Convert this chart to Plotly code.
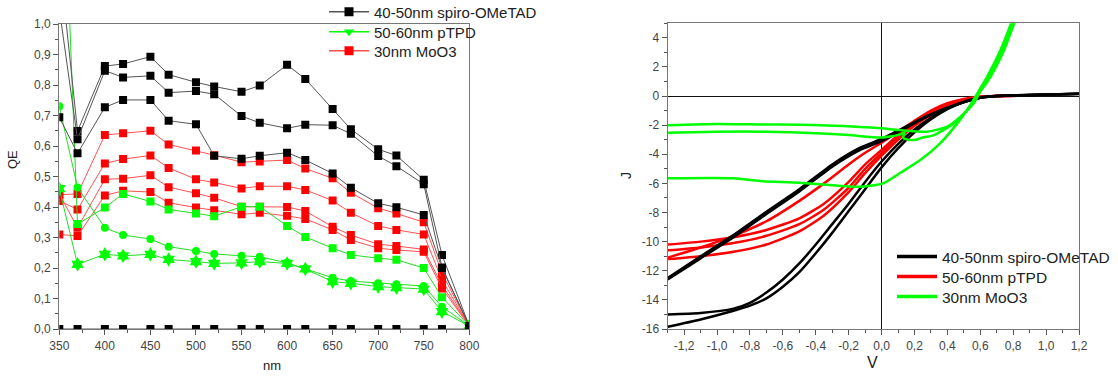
import plotly.graph_objects as go

# ---------------- Left chart: QE vs wavelength ----------------
wavelength = [350, 370, 400, 420, 450, 470, 500, 520, 550, 570, 600, 620, 650, 670, 700, 720, 750, 770, 800]

spiro_a = [1.22, 0.649, 0.862, 0.869, 0.893, 0.834, 0.809, 0.795, 0.778, 0.798, 0.866, 0.820, 0.721, 0.655, 0.589, 0.569, 0.489, 0.243, 0.01]
spiro_b = [1.05, 0.622, 0.847, 0.825, 0.830, 0.775, 0.780, 0.770, 0.698, 0.676, 0.658, 0.670, 0.668, 0.640, 0.567, 0.534, 0.475, 0.202, 0.01]
spiro_c = [0.694, 0.576, 0.727, 0.751, 0.751, 0.683, 0.671, 0.568, 0.558, 0.568, 0.578, 0.554, 0.510, 0.463, 0.412, 0.399, 0.374, 0.200, 0.01]
spiro_d = [0.0] * 19

moo3_a = [0.440, 0.443, 0.636, 0.642, 0.650, 0.605, 0.585, 0.570, 0.547, 0.549, 0.554, 0.526, 0.494, 0.447, 0.396, 0.379, 0.350, 0.183, 0.01]
moo3_b = [0.420, 0.392, 0.543, 0.557, 0.569, 0.528, 0.491, 0.480, 0.461, 0.468, 0.468, 0.456, 0.421, 0.381, 0.338, 0.325, 0.310, 0.161, 0.01]
moo3_c = [0.443, 0.332, 0.491, 0.493, 0.504, 0.465, 0.445, 0.430, 0.401, 0.401, 0.400, 0.387, 0.335, 0.308, 0.278, 0.272, 0.261, 0.144, 0.01]
moo3_d = [0.310, 0.305, 0.438, 0.453, 0.449, 0.414, 0.398, 0.389, 0.376, 0.381, 0.371, 0.361, 0.325, 0.292, 0.265, 0.259, 0.253, 0.133, 0.01]

ptpd_a = [1.90, 0.344, 0.398, 0.443, 0.418, 0.392, 0.379, 0.370, 0.401, 0.401, 0.338, 0.302, 0.265, 0.243, 0.232, 0.227, 0.200, 0.104, 0.01]
ptpd_b = [0.730, 0.464, 0.332, 0.308, 0.295, 0.270, 0.256, 0.246, 0.240, 0.237, 0.217, 0.197, 0.168, 0.157, 0.150, 0.147, 0.141, 0.073, 0.01]
ptpd_c = [0.460, 0.212, 0.245, 0.240, 0.245, 0.228, 0.221, 0.215, 0.217, 0.221, 0.215, 0.197, 0.155, 0.150, 0.139, 0.136, 0.131, 0.057, 0.01]

qe_xticks = [350, 400, 450, 500, 550, 600, 650, 700, 750, 800]
qe_yticks = [0.0, 0.1, 0.2, 0.3, 0.4, 0.5, 0.6, 0.7, 0.8, 0.9, 1.0]
qe_yticklabels = ["0,0", "0,1", "0,2", "0,3", "0,4", "0,5", "0,6", "0,7", "0,8", "0,9", "1,0"]

series_names = ["40-50nm spiro-OMeTAD", "50-60nm pTPD", "30nm MoO3"]

# ---------------- Right chart: J-V curves ----------------
v_black_steep = [-1.3, -1.1, -0.9, -0.8, -0.7, -0.6, -0.5, -0.4, -0.3, -0.2, -0.1, 0.0, 0.1, 0.2, 0.3, 0.4, 0.5, 0.6, 0.7, 0.8, 1.0, 1.2]
j_black_1 = [-15.0, -14.9, -14.6, -14.2, -13.5, -12.6, -11.5, -10.2, -8.8, -7.4, -5.9, -4.5, -3.3, -2.3, -1.5, -0.85, -0.4, -0.12, 0.0, 0.04, 0.09, 0.15]
j_black_2 = [-15.85, -15.35, -14.75, -14.4, -13.9, -13.1, -12.1, -10.8, -9.4, -7.9, -6.4, -4.9, -3.6, -2.5, -1.6, -0.9, -0.42, -0.12, 0.0, 0.05, 0.1, 0.14]
v_black_flat = [-1.3, -1.1, -0.9, -0.7, -0.5, -0.3, -0.13, 0.0, 0.13, 0.28, 0.48, 0.6, 0.7, 0.9, 1.2]
j_black_3 = [-12.6, -11.15, -9.7, -8.1, -6.55, -4.85, -3.7, -3.1, -2.3, -1.4, -0.5, -0.12, 0.0, 0.07, 0.15]
j_black_4 = [-12.5, -11.0, -9.55, -7.95, -6.4, -4.7, -3.55, -2.95, -2.2, -1.35, -0.48, -0.1, 0.0, 0.07, 0.16]

v_red = [-1.3, -1.1, -0.9, -0.7, -0.5, -0.35, -0.2, -0.1, 0.0, 0.1, 0.2, 0.3, 0.4, 0.5, 0.6, 0.7, 0.85]
j_red_1 = [-10.2, -10.0, -9.7, -9.2, -8.4, -7.4, -5.9, -4.7, -3.7, -2.7, -1.85, -1.15, -0.6, -0.25, -0.06, 0.0, 0.02]
j_red_2 = [-10.6, -10.4, -10.1, -9.6, -8.8, -7.8, -6.3, -5.0, -3.9, -2.85, -1.95, -1.2, -0.65, -0.28, -0.07, 0.0, 0.02]
j_red_3 = [-11.2, -11.0, -10.7, -10.2, -9.3, -8.2, -6.6, -5.3, -4.1, -3.0, -2.05, -1.3, -0.7, -0.3, -0.08, 0.0, 0.02]
j_red_4 = [-11.1, -10.4, -9.6, -8.6, -7.2, -6.0, -4.7, -3.9, -3.2, -2.45, -1.7, -1.0, -0.5, -0.2, -0.04, 0.0, 0.02]

v_green_1 = [-1.3, -1.0, -0.74, -0.5, -0.33, -0.13, 0.0, 0.11, 0.275, 0.4, 0.48, 0.56, 0.6, 0.65, 0.7, 0.75, 0.8, 0.83]
j_green_1 = [-2.0, -1.92, -1.95, -1.98, -2.02, -2.12, -2.22, -2.34, -2.45, -2.1, -1.42, -0.5, 0.3, 1.1, 2.1, 3.3, 4.8, 5.6]
v_green_2 = [-1.3, -1.0, -0.7, -0.4, -0.2, 0.0, 0.11, 0.14, 0.13, 0.16, 0.21, 0.25, 0.32, 0.44, 0.52, 0.58, 0.64, 0.7, 0.75, 0.8]
j_green_2 = [-2.52, -2.45, -2.45, -2.55, -2.68, -2.85, -2.65, -2.5, -2.85, -3.0, -3.0, -2.85, -2.68, -1.88, -0.96, 0.15, 1.3, 2.6, 3.9, 5.4]
v_green_3 = [-1.3, -0.9, -0.74, -0.5, -0.33, -0.13, 0.01, 0.11, 0.235, 0.356, 0.46, 0.52, 0.58, 0.63, 0.7, 0.76, 0.81]
j_green_3 = [-5.65, -5.65, -5.84, -5.95, -6.1, -6.23, -6.0, -5.3, -4.4, -3.25, -1.88, -0.96, 0.0, 0.9, 2.4, 3.9, 5.3]

jv_xticks = [-1.2, -1.0, -0.8, -0.6, -0.4, -0.2, 0.0, 0.2, 0.4, 0.6, 0.8, 1.0, 1.2]
jv_xticklabels = ["-1,2", "-1,0", "-0,8", "-0,6", "-0,4", "-0,2", "0,0", "0,2", "0,4", "0,6", "0,8", "1,0", "1,2"]
jv_yticks = [-16, -14, -12, -10, -8, -6, -4, -2, 0, 2, 4]
jv_yticklabels = ["-16", "-14", "-12", "-10", "-8", "-6", "-4", "-2", "0", "2", "4"]

BLACK = "#000000"
RED = "#ff0000"
GREEN = "#00ff00"
FONT = "Arial, Liberation Sans, sans-serif"
W, H = 1118, 376

fig = go.Figure()

# left chart data traces
def qe_trace(y, line_color, marker_color, symbol, size=8):
    fig.add_trace(go.Scatter(
        x=wavelength, y=y, mode="lines+markers", xaxis="x", yaxis="y",
        line=dict(color=line_color, width=1),
        marker=dict(color=marker_color, symbol=symbol, size=size, line=dict(width=0)),
        showlegend=False, hoverinfo="skip"))

for y in [moo3_a, moo3_b, moo3_c, moo3_d]:
    qe_trace(y, "#ff5050", RED, "square")
qe_trace(ptpd_a, "#22dd22", GREEN, "square")
qe_trace(ptpd_b, "#22dd22", GREEN, "circle")
qe_trace(ptpd_c, "#22dd22", GREEN, "hexagram", 11)
for y in [spiro_a, spiro_b, spiro_c, spiro_d]:
    qe_trace(y, "#555555", BLACK, "square")

# right chart data traces
def jv_trace(v, j, color):
    fig.add_trace(go.Scatter(
        x=v, y=j, mode="lines", xaxis="x2", yaxis="y2",
        line=dict(color=color, width=2.5, shape="spline", smoothing=0.6),
        showlegend=False, hoverinfo="skip"))

jv_trace(v_red, j_red_1, RED)
jv_trace(v_red, j_red_2, RED)
jv_trace(v_red, j_red_3, RED)
jv_trace(v_red, j_red_4, RED)
jv_trace(v_black_steep, j_black_1, BLACK)
jv_trace(v_black_steep, j_black_2, BLACK)
jv_trace(v_black_flat, j_black_3, BLACK)
jv_trace(v_black_flat, j_black_4, BLACK)
jv_trace(v_green_1, j_green_1, GREEN)
jv_trace(v_green_2, j_green_2, GREEN)
jv_trace(v_green_3, j_green_3, GREEN)

# legends: one legend box per entry for exact placement
legend_boxes = {}
left_styles = [(BLACK, "#555555", "square"), (GREEN, GREEN, "triangle-down"), (RED, "#ff5050", "square")]
left_centers = [12, 32, 51]
for i, (name, (mc, lc, sym)) in enumerate(zip(series_names, left_styles)):
    key = "legend" if i == 0 else f"legend{i + 1}"
    fig.add_trace(go.Scatter(
        x=[None], y=[None], mode="lines+markers", xaxis="x", yaxis="y", name=name,
        line=dict(color=lc, width=1.5), marker=dict(color=mc, symbol=sym, size=9),
        legend=key))
    legend_boxes[key] = dict(x=324 / W, y=1 - left_centers[i] / H, xanchor="left", yanchor="middle",
                             bgcolor="rgba(0,0,0,0)", itemwidth=40,
                             font=dict(family=FONT, size=15, color="#222222"))

right_colors = [BLACK, RED, GREEN]
right_centers = [257, 277, 297]
for i, (name, col) in enumerate(zip(series_names, right_colors)):
    key = f"legend{i + 4}"
    fig.add_trace(go.Scatter(
        x=[None], y=[None], mode="lines", xaxis="x2", yaxis="y2", name=name,
        line=dict(color=col, width=3.5), legend=key))
    legend_boxes[key] = dict(x=892 / W, y=1 - right_centers[i] / H, xanchor="left", yanchor="middle",
                             bgcolor="rgba(0,0,0,0)", itemwidth=40,
                             font=dict(family=FONT, size=15.5, color="#222222"))

tickfont = dict(family=FONT, size=12, color="#444444")
axis_common = dict(showline=True, mirror=True, linecolor="#777777", linewidth=1.2,
                   ticks="outside", ticklen=5, tickcolor="#555555", showgrid=False,
                   tickfont=tickfont, automargin=False)

def title_annot(text, x, y, size, angle=0):
    return dict(text=text, x=x / W, y=1 - y / H, xref="paper", yref="paper",
                xanchor="center", yanchor="middle", showarrow=False, textangle=angle,
                font=dict(family=FONT, size=size, color="#222222"))

fig.update_layout(
    width=W, height=H,
    margin=dict(l=0, r=0, t=0, b=0, autoexpand=False),
    paper_bgcolor="white", plot_bgcolor="white",
    font=dict(family=FONT, color="#222222"),
    xaxis=dict(domain=[59.3 / W, 469.3 / W], range=[350, 800], anchor="y",
               tickvals=qe_xticks, zeroline=False,
               minor=dict(ticks="outside", ticklen=3, dtick=25, tickcolor="#555555"),
               **axis_common),
    yaxis=dict(domain=[(H - 329) / H, (H - 24) / H], range=[0, 1.0], anchor="x",
               tickvals=qe_yticks, ticktext=qe_yticklabels, zeroline=False,
               minor=dict(ticks="outside", ticklen=3, dtick=0.05, tickcolor="#555555"),
               **axis_common),
    xaxis2=dict(domain=[667.7 / W, 1079 / W], range=[-1.3, 1.2], anchor="y2",
                tickvals=jv_xticks, ticktext=jv_xticklabels,
                zeroline=True, zerolinecolor="#111111", zerolinewidth=1,
                minor=dict(ticks="outside", ticklen=3, dtick=0.1, tickcolor="#555555"),
                **axis_common),
    yaxis2=dict(domain=[(H - 329) / H, (H - 23.2) / H], range=[-16, 5], anchor="x2",
                tickvals=jv_yticks, ticktext=jv_yticklabels,
                zeroline=True, zerolinecolor="#111111", zerolinewidth=1,
                minor=dict(ticks="outside", ticklen=3, dtick=1, tickcolor="#555555"),
                **axis_common),
    annotations=[
        title_annot("QE", 13, 160, 13, -90),
        title_annot("nm", 272, 365, 13),
        title_annot("J", 626, 176, 14, -90),
        title_annot("V", 872, 362, 16),
    ],
)
fig.update_layout(**legend_boxes)

fig.write_html("out.html")
